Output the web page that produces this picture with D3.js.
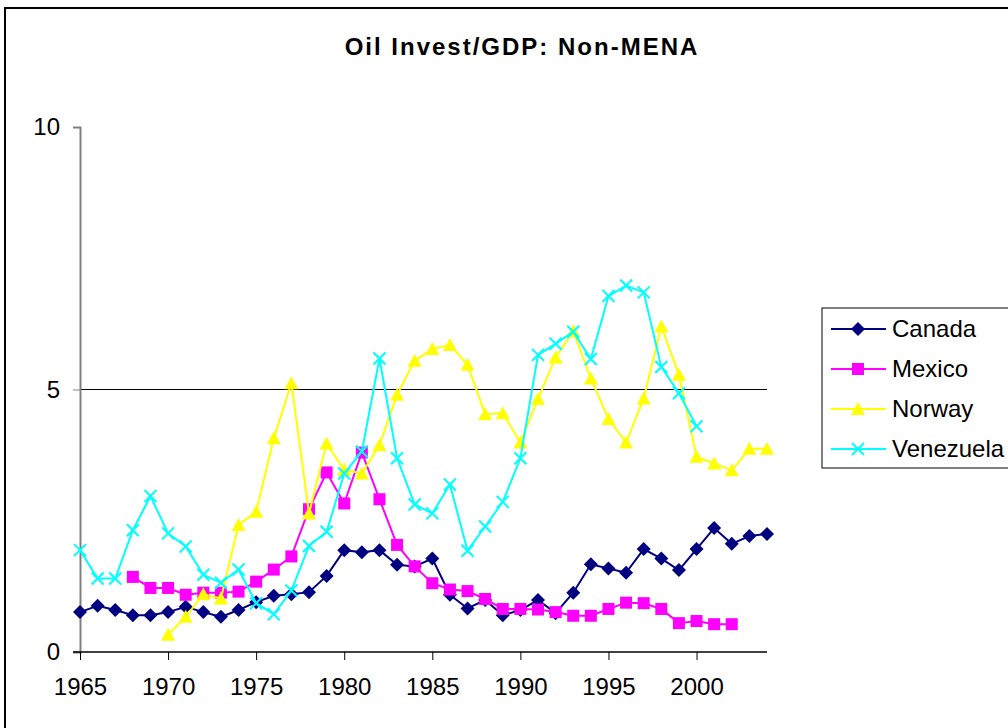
<!DOCTYPE html>
<html lang="en">
<head>
<meta charset="UTF-8">
<title>Oil Invest/GDP: Non-MENA</title>
<script src="https://d3js.org/d3.v7.min.js"></script>
<style>
  body { margin: 0; background: #fff; }
  svg { display: block; font-family: "Liberation Sans", Arial, sans-serif; }
</style>
</head>
<body>
<svg id="chart" width="1008" height="728"></svg>
<script>
// data
var years = [1965, 1966, 1967, 1968, 1969, 1970, 1971, 1972, 1973, 1974,
             1975, 1976, 1977, 1978, 1979, 1980, 1981, 1982, 1983, 1984,
             1985, 1986, 1987, 1988, 1989, 1990, 1991, 1992, 1993, 1994,
             1995, 1996, 1997, 1998, 1999, 2000, 2001, 2002, 2003, 2004];

var canada = [0.76, 0.88, 0.80, 0.70, 0.70, 0.76, 0.86, 0.76, 0.67, 0.80,
              0.95, 1.07, 1.10, 1.14, 1.45, 1.94, 1.90, 1.94, 1.66, 1.63,
              1.78, 1.09, 0.83, 0.99, 0.70, 0.80, 0.99, 0.74, 1.13, 1.67,
              1.59, 1.51, 1.96, 1.78, 1.56, 1.96, 2.36, 2.06, 2.21, 2.25];

var mexico = [null, null, null, 1.43, 1.22, 1.22, 1.09, 1.13, 1.13, 1.15,
              1.34, 1.57, 1.82, 2.72, 3.42, 2.83, 3.80, 2.91, 2.04, 1.63,
              1.31, 1.19, 1.16, 1.01, 0.82, 0.82, 0.81, 0.76, 0.69, 0.69,
              0.82, 0.94, 0.93, 0.82, 0.55, 0.59, 0.53, 0.53, null, null];

var norway = [null, null, null, null, null, 0.33, 0.67, 1.10, 1.02, 2.42,
              2.67, 4.07, 5.12, 2.64, 3.97, 3.47, 3.40, 3.94, 4.90, 5.55,
              5.77, 5.85, 5.47, 4.53, 4.55, 3.99, 4.82, 5.61, 6.11, 5.21,
              4.44, 3.99, 4.83, 6.20, 5.28, 3.72, 3.59, 3.46, 3.87, 3.87];

var venezuela = [1.94, 1.40, 1.40, 2.32, 2.97, 2.26, 2.01, 1.47, 1.32, 1.57,
                 0.93, 0.72, 1.17, 2.02, 2.29, 3.40, 3.82, 5.59, 3.69, 2.81,
                 2.64, 3.19, 1.93, 2.39, 2.86, 3.69, 5.66, 5.87, 6.10, 5.58,
                 6.78, 6.98, 6.85, 5.43, 4.93, 4.30, null, null, null, null];

var yTicks = [0, 5, 10];
var xTicks = [1965, 1970, 1975, 1980, 1985, 1990, 1995, 2000];

var series = [
    {name: "Canada", values: canada, color: "#000080", symbol: "diamond"},
    {name: "Mexico", values: mexico, color: "#ff00ff", symbol: "square"},
    {name: "Norway", values: norway, color: "#ffff00", symbol: "triangle"},
    {name: "Venezuela", values: venezuela, color: "#00ffff", symbol: "cross"}
];

var svg = d3.select("#chart");
var plot = {left: 80, right: 767, top: 127, bottom: 652};

var x = d3.scaleLinear().domain([1965, 2004]).range([plot.left, plot.right]);
var y = d3.scaleLinear().domain([0, 10]).range([plot.bottom, plot.top]);

// outer chart frame (runs off the page on the right and bottom)
svg.append("rect")
    .attr("x", 5).attr("y", 8)
    .attr("width", 1100).attr("height", 800)
    .attr("fill", "none")
    .attr("stroke", "#000")
    .attr("stroke-width", 2);

svg.append("text")
    .attr("x", 522).attr("y", 55)
    .attr("text-anchor", "middle")
    .attr("font-size", 24)
    .attr("font-weight", "bold")
    .attr("letter-spacing", 2)
    .text("Oil Invest/GDP: Non-MENA");

// gridline at 5
svg.append("line")
    .attr("x1", plot.left).attr("x2", plot.right)
    .attr("y1", y(5)).attr("y2", y(5))
    .attr("stroke", "#000").attr("stroke-width", 1);

// y axis
var yAxis = svg.append("g")
    .attr("transform", "translate(" + plot.left + ",0)")
    .call(d3.axisLeft(y).tickValues(yTicks).tickSize(7).tickPadding(13).tickFormat(d3.format("d")));
yAxis.select(".domain").attr("stroke", "#808080").attr("stroke-width", 2);
yAxis.selectAll(".tick line").attr("stroke", "#808080");
yAxis.selectAll("text").attr("font-size", 24).attr("fill", "#000")
    .attr("font-family", "Liberation Sans, Arial, sans-serif");

// x axis
var xAxis = svg.append("g")
    .attr("transform", "translate(0," + plot.bottom + ")")
    .call(d3.axisBottom(x).tickValues(xTicks).tickSize(8).tickPadding(18).tickFormat(d3.format("d")));
xAxis.select(".domain").attr("d", "M" + (plot.left - 7) + ",0H" + plot.right)
    .attr("stroke", "#000").attr("stroke-width", 1.5);
xAxis.selectAll(".tick line").attr("stroke", "#000");
xAxis.selectAll("text").attr("font-size", 24).attr("fill", "#000")
    .attr("font-family", "Liberation Sans, Arial, sans-serif");

function marker(g, symbol, color) {
    if (symbol === "diamond") {
        g.append("path").attr("d", "M0,-7L7,0L0,7L-7,0Z").attr("fill", color);
    } else if (symbol === "square") {
        g.append("rect").attr("x", -6).attr("y", -6).attr("width", 12).attr("height", 12).attr("fill", color);
    } else if (symbol === "triangle") {
        g.append("path").attr("d", "M0,-7L7,6L-7,6Z").attr("fill", color);
    } else {
        g.append("path").attr("d", "M-6,-6L6,6M-6,6L6,-6")
            .attr("stroke", color).attr("stroke-width", 2).attr("fill", "none");
    }
}

var line = d3.line()
    .defined(function(d) { return d != null; })
    .x(function(d, i) { return x(years[i]); })
    .y(function(d) { return y(d); });

series.forEach(function(s) {
    svg.append("path")
        .datum(s.values)
        .attr("d", line)
        .attr("fill", "none")
        .attr("stroke", s.color)
        .attr("stroke-width", 2);

    svg.append("g").selectAll("g")
        .data(s.values.map(function(v, i) { return {year: years[i], v: v}; })
            .filter(function(d) { return d.v != null; }))
        .enter().append("g")
        .attr("transform", function(d) { return "translate(" + x(d.year) + "," + y(d.v) + ")"; })
        .each(function() { marker(d3.select(this), s.symbol, s.color); });
});

// legend
var legend = svg.append("g");
legend.append("rect")
    .attr("x", 822).attr("y", 308)
    .attr("width", 300).attr("height", 160)
    .attr("fill", "#fff")
    .attr("stroke", "#000").attr("stroke-width", 1);

series.forEach(function(s, i) {
    var ly = 329 + i * 40;
    legend.append("line")
        .attr("x1", 831).attr("x2", 886)
        .attr("y1", ly).attr("y2", ly)
        .attr("stroke", s.color).attr("stroke-width", 2);
    var m = legend.append("g").attr("transform", "translate(858," + ly + ")");
    marker(m, s.symbol, s.color);
    legend.append("text")
        .attr("x", 892).attr("y", ly + 8)
        .attr("font-size", 24)
        .text(s.name);
});
</script>
</body>
</html>
